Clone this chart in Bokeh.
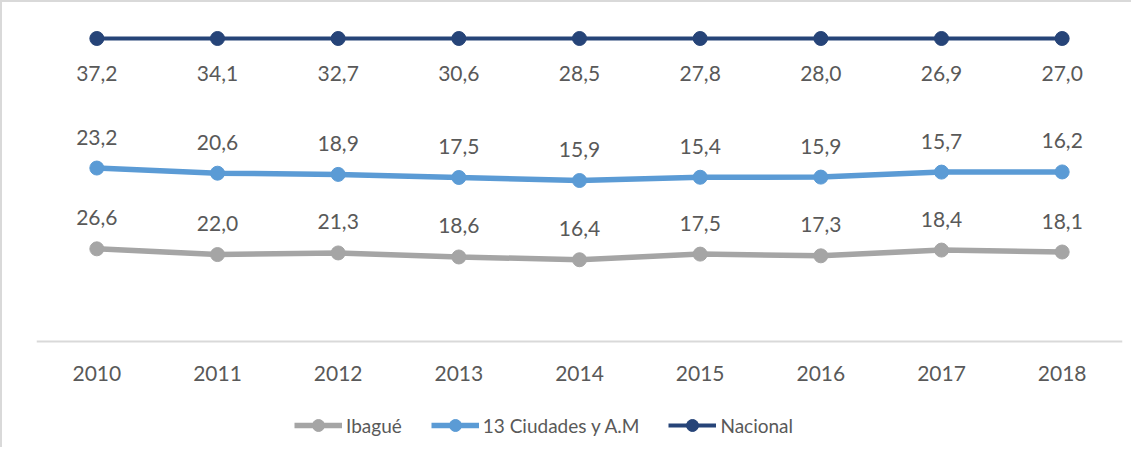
from bokeh.plotting import figure
from bokeh.models import Legend, LegendItem, FactorRange, Range1d, ColumnDataSource, Span
from bokeh.embed import file_html
from bokeh.resources import INLINE
from bokeh.core.properties import value

years = ["2010", "2011", "2012", "2013", "2014", "2015", "2016", "2017", "2018"]
ibague = [26.6, 22.0, 21.3, 18.6, 16.4, 17.5, 17.3, 18.4, 18.1]
ciudades = [23.2, 20.6, 18.9, 17.5, 15.9, 15.4, 15.9, 15.7, 16.2]
nacional = [37.2, 34.1, 32.7, 30.6, 28.5, 27.8, 28.0, 26.9, 27.0]
series_names = ["Ibagué", "13 Ciudades y A.M", "Nacional"]
colors = ["#A5A5A5", "#5B9BD5", "#264478"]

FONT = "Lato"
TXT = "#595959"

# 100% stacked line chart: cumulative share of each year's total
series = [ibague, ciudades, nacional]
totals = [sum(vals) for vals in zip(*series)]
cum = []
running = [0.0] * len(years)
for s in series:
    running = [r + v for r, v in zip(running, s)]
    cum.append([100.0 * r / t for r, t in zip(running, totals)])

p = figure(x_range=FactorRange(*years), y_range=Range1d(-35.0, 106.6),
           frame_width=1086, frame_height=429,
           min_border_left=34, min_border_right=9, min_border_top=16, min_border_bottom=0,
           y_axis_location=None, output_backend="svg", toolbar_location=None)
p.styles = {"border-left": "2px solid #d9d9d9", "border-top": "2px solid #d9d9d9"}
p.outline_line_color = None
p.xgrid.visible = False
p.ygrid.visible = False
p.xaxis.visible = False
p.background_fill_color = "white"
p.border_fill_color = "white"

# category axis: baseline and year labels placed through the categorical scale
p.add_layout(Span(location=0, dimension="width", line_color="#d9d9d9", line_width=2))
ysrc = ColumnDataSource(dict(x=years, y=[0] * len(years), lab=years))
p.text("x", "y", text="lab", source=ysrc, text_align="center", text_baseline="middle",
       y_offset=32, text_font=value(FONT), text_font_size="21px", text_color=TXT)

widths = [5.5, 5.5, 4]
offsets = [-31, -31, 35]
items = []
for name, vals, c, col, w, off in zip(series_names, series, cum, colors, widths, offsets):
    src = ColumnDataSource(dict(x=years, y=c,
                                lab=[f"{v:.1f}".replace(".", ",") for v in vals]))
    lr = p.line("x", "y", source=src, line_color=col, line_width=w)
    cr = p.scatter("x", "y", source=src, marker="circle", size=14,
                   fill_color=col, line_color=col)
    p.text("x", "y", text="lab", source=src, text_align="center", text_baseline="middle",
           y_offset=off, text_font=value(FONT), text_font_size="21px", text_color=TXT)
    items.append(LegendItem(label=name, renderers=[lr, cr]))

legend = Legend(items=items, orientation="horizontal", location=(258, 7),
                border_line_color=None, background_fill_alpha=0,
                label_text_font=FONT, label_text_font_size="19px", label_text_color=TXT,
                glyph_width=48, glyph_height=30, label_standoff=4, spacing=29,
                padding=0, margin=0)
p.add_layout(legend, "center")

open("out.html", "w").write(file_html(p, INLINE))
